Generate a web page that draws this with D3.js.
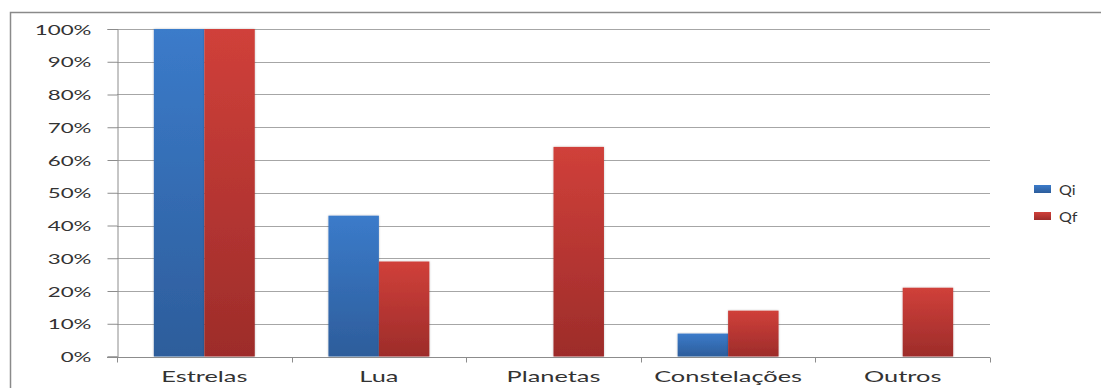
<!DOCTYPE html>
<html>
<head>
<meta charset="utf-8">
<script src="https://cdn.jsdelivr.net/npm/d3@7"></script>
<style>
  html, body { margin: 0; padding: 0; background: #fff; overflow: hidden; }
  svg { display: block; }
</style>
</head>
<body>
<svg id="chart" width="1101" height="388"></svg>
<script>
// Share of answers per topic, before (Qi) and after (Qf)
const categories = ["Estrelas", "Lua", "Planetas", "Constelações", "Outros"];
const seriesNames = ["Qi", "Qf"];
const qiValues = [100, 43, 0, 7, 0];
const qfValues = [100, 29, 64, 14, 21];
const yTickValues = [0, 10, 20, 30, 40, 50, 60, 70, 80, 90, 100];

const colors = {
  Qi: ["#3b7bca", "#2d5d9b"],
  Qf: ["#d0403a", "#9d2c2a"]
};

const svg = d3.select("#chart");
const font = "Lato, 'Open Sans', sans-serif";

const plot = { left: 117, right: 990, top: 29, bottom: 356.5 };

// Outer chart border
svg.append("rect")
  .attr("x", 10.5).attr("y", 12.5)
  .attr("width", 1100).attr("height", 400)
  .attr("fill", "none").attr("stroke", "#8a8a8a").attr("stroke-width", 1.5);

// Gradients for the bars
const defs = svg.append("defs");
seriesNames.forEach(s => {
  const g = defs.append("linearGradient").attr("id", "grad-" + s)
    .attr("x1", 0).attr("y1", 0).attr("x2", 0).attr("y2", 1);
  g.append("stop").attr("offset", "0%").attr("stop-color", colors[s][0]);
  g.append("stop").attr("offset", "100%").attr("stop-color", colors[s][1]);
});
const shadow = defs.append("filter").attr("id", "glow")
  .attr("x", "-10%").attr("y", "-5%").attr("width", "120%").attr("height", "110%");
shadow.append("feGaussianBlur").attr("in", "SourceAlpha").attr("stdDeviation", 1.2).attr("result", "b");
shadow.append("feComponentTransfer").attr("in", "b").attr("result", "b2")
  .append("feFuncA").attr("type", "linear").attr("slope", 0.25);
const merge = shadow.append("feMerge");
merge.append("feMergeNode").attr("in", "b2");
merge.append("feMergeNode").attr("in", "SourceGraphic");

const x = d3.scaleBand().domain(categories)
  .range([plot.left, plot.right]).paddingInner(0).paddingOuter(0);
const xInner = d3.scaleBand().domain(seriesNames)
  .range([0, x.bandwidth()]).paddingOuter(0.73).paddingInner(0);
const y = d3.scaleLinear().domain([0, 100]).range([plot.bottom, plot.top]);

// Horizontal gridlines
svg.append("g").selectAll("line")
  .data(yTickValues.filter(v => v > 0))
  .join("line")
  .attr("x1", plot.left).attr("x2", plot.right)
  .attr("y1", d => Math.round(y(d)) + 0.5).attr("y2", d => Math.round(y(d)) + 0.5)
  .attr("stroke", "#a6a6a6").attr("stroke-width", 1);

// Y axis
const yAxis = svg.append("g")
  .attr("transform", `translate(${plot.left + 0.5},0)`)
  .call(d3.axisLeft(y).tickValues(yTickValues).tickFormat(d => d + "%").tickSize(10).tickPadding(0));
yAxis.select(".domain").attr("stroke", "#8c8c8c");
yAxis.selectAll(".tick line").attr("stroke", "#8c8c8c");
yAxis.selectAll(".tick text").remove();
yAxis.selectAll(".tick").append("text")
  .attr("transform", "translate(-26,5) scale(1.72,1)")
  .attr("text-anchor", "end")
  .attr("fill", "#333")
  .attr("font-family", font).attr("font-size", 13)
  .text(d => d + "%");

// Bars
const groups = svg.append("g").selectAll("g")
  .data(categories.map((c, i) => ({ c, vals: [{ s: "Qi", v: qiValues[i] }, { s: "Qf", v: qfValues[i] }] })))
  .join("g")
  .attr("transform", d => `translate(${x(d.c)},0)`);
groups.selectAll("rect")
  .data(d => d.vals.filter(e => e.v > 0))
  .join("rect")
  .attr("x", d => xInner(d.s))
  .attr("width", xInner.bandwidth())
  .attr("y", d => y(d.v))
  .attr("height", d => y(0) - y(d.v))
  .attr("fill", d => `url(#grad-${d.s})`)
  .attr("filter", "url(#glow)");

// X axis
const xAxis = svg.append("g")
  .attr("transform", `translate(0,${Math.round(plot.bottom) + 0.5})`);
xAxis.append("line")
  .attr("x1", plot.left - 10).attr("x2", plot.right)
  .attr("stroke", "#8c8c8c");
xAxis.selectAll("line.tick")
  .data(categories)
  .join("line").attr("class", "tick")
  .attr("x1", d => Math.round(x(d) + x.bandwidth()) + 0.5)
  .attr("x2", d => Math.round(x(d) + x.bandwidth()) + 0.5)
  .attr("y1", 0).attr("y2", 5)
  .attr("stroke", "#8c8c8c");
xAxis.append("line")
  .attr("x1", plot.left + 0.5).attr("x2", plot.left + 0.5)
  .attr("y1", 0).attr("y2", 5).attr("stroke", "#8c8c8c");
xAxis.selectAll("text")
  .data(categories)
  .join("text")
  .attr("transform", d => `translate(${x(d) + x.bandwidth() / 2},24) scale(1.75,1)`)
  .attr("text-anchor", "middle")
  .attr("fill", "#333")
  .attr("font-family", font).attr("font-size", 14.5)
  .text(d => d);

// Legend
const legend = svg.append("g").attr("transform", "translate(1034,185)");
seriesNames.forEach((s, i) => {
  const g = legend.append("g").attr("transform", `translate(0,${i * 27})`);
  g.append("rect").attr("width", 17).attr("height", 8)
    .attr("fill", `url(#grad-${s})`);
  g.append("text")
    .attr("transform", "translate(25,9.5) scale(1.15,1)")
    .attr("fill", "#333")
    .attr("font-family", font).attr("font-size", 14)
    .text(s);
});
</script>
</body>
</html>
